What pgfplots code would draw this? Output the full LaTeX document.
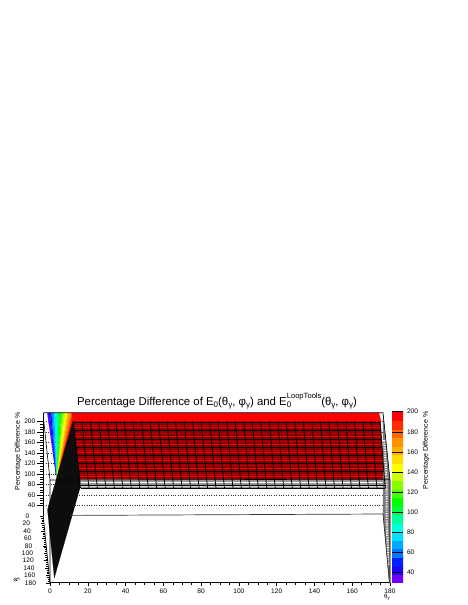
\documentclass[border=0pt]{standalone}
\usepackage{fontspec}
\setmainfont{Liberation Sans}
\usepackage{pgfplots}
\pgfplotsset{compat=1.18}

% palette, top band of the colour scale first
\definecolor{p1}{HTML}{FF0000}\definecolor{p2}{HTML}{FF2A00}\definecolor{p3}{HTML}{FF6600}
\definecolor{p4}{HTML}{FF9000}\definecolor{p5}{HTML}{FFB000}\definecolor{p6}{HTML}{FFDD00}
\definecolor{p7}{HTML}{FFFF00}\definecolor{p8}{HTML}{CCFF00}\definecolor{p9}{HTML}{88FF00}
\definecolor{p10}{HTML}{44FF00}\definecolor{p11}{HTML}{00FF00}\definecolor{p12}{HTML}{00FF44}
\definecolor{p13}{HTML}{00FF99}\definecolor{p14}{HTML}{00FFDD}\definecolor{p15}{HTML}{00E0FF}
\definecolor{p16}{HTML}{00AAFF}\definecolor{p17}{HTML}{0077FF}\definecolor{p18}{HTML}{0020FF}
\definecolor{p19}{HTML}{2000FF}\definecolor{p20}{HTML}{7000FF}
\definecolor{darkred}{HTML}{8C0000}
\definecolor{midred}{HTML}{C80000}

\newcommand{\sbs}[1]{\raisebox{-0.35ex}{\fontsize{8}{8}\selectfont #1}}
\newcommand{\thg}{θ\sbs{γ}}
\newcommand{\phg}{φ\sbs{γ}}

\pgfplotsset{
  every axis/.append style={
    scale only axis,
    /pgf/number format/assume math mode=true,
    tick label style={font=\fontsize{6.6}{7}\selectfont},
    axis line style={line width=0.6pt},
    tick style={black,line width=0.5pt},
  },
  band/.style={fill=#1,draw=#1,line width=0.15pt,forget plot},
}

\begin{document}
\begin{tikzpicture}
\path[use as bounding box] (0,0) rectangle (468pt,605pt);

% percentage axis with the dotted back wall grid
\begin{axis}[
  at={(43.3pt,89.3pt)}, anchor=south west,
  width=339.7pt, height=103pt,
  xmin=0, xmax=1, ymin=21, ymax=217.1,
  axis y line*=left, axis x line=none,
  ytick={40,60,...,200}, minor y tick num=3,
  tick align=outside, major tick length=6pt, minor tick length=3pt,
  yticklabel style={xshift=1.5pt},
  ymajorgrids, major grid style={black!80,dotted,line width=0.45pt},
]
\addplot[draw=none] coordinates {(0,40)(1,200)};
\end{axis}

% theta axis along the front edge
\begin{axis}[
  at={(50pt,22.3pt)}, anchor=south west,
  width=340pt, height=60pt,
  xmin=0, xmax=180, ymin=0, ymax=1,
  axis x line*=bottom, axis y line=none,
  xtick={0,20,...,180}, minor x tick num=3,
  tick align=outside, major tick length=3.5pt, minor tick length=2pt,
  xticklabel style={yshift=1pt},
]
\addplot[draw=none] coordinates {(0,0)(180,1)};
\end{axis}

% slanted phi axis on the left side
\begin{axis}[
  at={(43.3pt,22pt)}, anchor=south west,
  x={(10pt,0pt)}, y={(0.0372pt,-0.372pt)},
  xmin=0, xmax=1, ymin=0, ymax=180,
  axis y line*=left, axis x line=none,
  ytick={0,20,...,180}, minor y tick num=3,
  tick align=outside, major tick length=3.5pt, minor tick length=2pt,
  yticklabel style={xshift=-7pt},
]
\addplot[draw=none] coordinates {(0,0)(1,180)};
\end{axis}

% picture space in pixels of the lego view
\begin{axis}[
  at={(0pt,0pt)}, anchor=south west,
  width=468pt, height=605pt,
  xmin=0, xmax=468, ymin=0, ymax=605, y dir=reverse,
  hide axis, clip=false, unbounded coords=jump,
]
% colour fan on the left edge
\addplot[band=p20] coordinates {(47.3,413)(48.7,413)(56.7,480)} -- cycle;
\addplot[band=p19] coordinates {(48.7,413)(50.1,413)(56.7,480)} -- cycle;
\addplot[band=p18] coordinates {(50.1,413)(51.5,413)(56.7,480)} -- cycle;
\addplot[band=p17] coordinates {(51.5,413)(52.9,413)(56.7,480)} -- cycle;
\addplot[band=p16] coordinates {(52.9,413)(54.3,413)(56.7,480)} -- cycle;
\addplot[band=p15] coordinates {(54.3,413)(55.7,413)(56.7,480)} -- cycle;
\addplot[band=p14] coordinates {(55.7,413)(57.1,413)(56.7,480)} -- cycle;
\addplot[band=p13] coordinates {(57.1,413)(58.5,413)(56.7,480)} -- cycle;
\addplot[band=p12] coordinates {(58.5,413)(59.9,413)(56.7,480)} -- cycle;
\addplot[band=p11] coordinates {(59.9,413)(61.3,413)(56.7,480)} -- cycle;
\addplot[band=p10] coordinates {(61.3,413)(62.7,413)(56.7,480)} -- cycle;
\addplot[band=p9] coordinates {(62.7,413)(64.1,413)(56.7,480)} -- cycle;
\addplot[band=p8] coordinates {(64.1,413)(65.5,413)(56.7,480)} -- cycle;
\addplot[band=p7] coordinates {(65.5,413)(66.9,413)(56.7,480)} -- cycle;
\addplot[band=p6] coordinates {(66.9,413)(68.3,413)(56.7,480)} -- cycle;
\addplot[band=p5] coordinates {(68.3,413)(69.7,413)(56.7,480)} -- cycle;
\addplot[band=p4] coordinates {(69.7,413)(71.1,413)(56.7,480)} -- cycle;
\addplot[band=p3] coordinates {(71.1,413)(72.5,413)(56.7,480)} -- cycle;
\addplot[band=p2] coordinates {(72.5,413)(73.9,413)(56.7,480)} -- cycle;
\addplot[band=p1] coordinates {(73.9,413)(75.3,413)(56.7,480)} -- cycle;

% red plateau
\addplot[band=p1] coordinates {(72,413)(379,413)(381,421.5)(73,421.5)} -- cycle;
\addplot[band=darkred] coordinates {(73,421.5)(380.5,421.5)(384.6,479.5)(79.5,479.5)} -- cycle;
\addplot[p1,line width=0.9pt,forget plot] coordinates {
  (73.9,427.8)(380.5,427.8)(nan,nan)
  (75,436.2)(381.2,436.2)(nan,nan)
  (76,444.5)(381.9,444.5)(nan,nan)
  (76.9,452.9)(382.5,452.9)(nan,nan)
  (77.6,460.6)(383.1,460.6)(nan,nan)
  (78.5,468.7)(383.7,468.7)(nan,nan)
  (79.3,476.9)(384.3,476.9)
};
\addplot[midred,line width=0.9pt,forget plot] coordinates {
  (73.5,425)(380.2,425)(nan,nan)
  (74.7,433.4)(381,433.4)(nan,nan)
  (75.6,441.7)(381.7,441.7)(nan,nan)
  (76.5,450.1)(382.3,450.1)(nan,nan)
  (77.4,458)(382.9,458)(nan,nan)
  (78.2,465.9)(383.5,465.9)(nan,nan)
  (79,474.1)(384,474.1)
};

% grey skirt under the plateau
\addplot[band=black!42] coordinates {(80,479.5)(384.6,479.5)(385,488.5)(81,488.5)} -- cycle;
\addplot[white,line width=0.9pt,forget plot] coordinates {(80,482.8)(384.8,482.8)};
\addplot[black!15,line width=0.7pt,forget plot] coordinates {(81,486.7)(385,486.7)};

% right side wall
\addplot[band=black!52] coordinates {(383,412.7)(390,480)(390,583)(389.3,583)(383,514)} -- cycle;
\addplot[white,line width=2.2pt,dash pattern=on 0.8pt off 0.9pt,forget plot] coordinates {(384.2,440)(386.6,480)(386.6,520)(388.8,565)};

% dark left wall
\addplot[band=black!95] coordinates {(73,421)(80,479)(80,488)(54.3,578)(47.7,512)(47.7,509)} -- cycle;

% mesh
\addplot[black,line width=0.5pt,forget plot] coordinates {
  (73.4,422.3)(380.1,422.3)(nan,nan)
  (74.3,430.7)(380.7,430.7)(nan,nan)
  (75.2,439)(381.4,439)(nan,nan)
  (76.1,447.3)(382,447.3)(nan,nan)
  (77,455.7)(382.6,455.7)(nan,nan)
  (77.8,463)(383.2,463)(nan,nan)
  (78.7,471.3)(383.8,471.3)(nan,nan)
  (80,485)(384.8,485)(nan,nan)
  (81,488.4)(385,488.4)
};
\addplot[black,line width=0.75pt,forget plot] coordinates {
  (73.3,421.5)(79.5,479)(80.5,488)(nan,nan)
  (81.8,421.5)(88,479)(89,488)(nan,nan)
  (90.3,421.5)(96.4,479)(97.4,488)(nan,nan)
  (98.9,421.5)(104.9,479)(105.9,488)(nan,nan)
  (107.4,421.5)(113.4,479)(114.4,488)(nan,nan)
  (115.9,421.5)(121.9,479)(122.9,488)(nan,nan)
  (124.4,421.5)(130.3,479)(131.3,488)(nan,nan)
  (133,421.5)(138.8,479)(139.8,488)(nan,nan)
  (141.5,421.5)(147.3,479)(148.3,488)(nan,nan)
  (150,421.5)(155.7,479)(156.7,488)(nan,nan)
  (158.5,421.5)(164.2,479)(165.2,488)(nan,nan)
  (167,421.5)(172.7,479)(173.7,488)(nan,nan)
  (175.5,421.5)(181.1,479)(182.1,488)(nan,nan)
  (184.1,421.5)(189.6,479)(190.6,488)(nan,nan)
  (192.6,421.5)(198.1,479)(199.1,488)(nan,nan)
  (201.1,421.5)(206.6,479)(207.6,488)(nan,nan)
  (209.6,421.5)(215,479)(216,488)(nan,nan)
  (218.1,421.5)(223.5,479)(224.5,488)(nan,nan)
  (226.7,421.5)(232,479)(233,488)(nan,nan)
  (235.2,421.5)(240.4,479)(241.4,488)(nan,nan)
  (243.7,421.5)(248.9,479)(249.9,488)(nan,nan)
  (252.2,421.5)(257.4,479)(258.4,488)(nan,nan)
  (260.7,421.5)(265.8,479)(266.8,488)(nan,nan)
  (269.3,421.5)(274.3,479)(275.3,488)(nan,nan)
  (277.8,421.5)(282.8,479)(283.8,488)(nan,nan)
  (286.3,421.5)(291.3,479)(292.3,488)(nan,nan)
  (294.8,421.5)(299.7,479)(300.7,488)(nan,nan)
  (303.3,421.5)(308.2,479)(309.2,488)(nan,nan)
  (311.9,421.5)(316.7,479)(317.7,488)(nan,nan)
  (320.4,421.5)(325.1,479)(326.1,488)(nan,nan)
  (328.9,421.5)(333.6,479)(334.6,488)(nan,nan)
  (337.4,421.5)(342.1,479)(343.1,488)(nan,nan)
  (345.9,421.5)(350.5,479)(351.5,488)(nan,nan)
  (354.5,421.5)(359,479)(360,488)(nan,nan)
  (363,421.5)(367.5,479)(368.5,488)(nan,nan)
  (371.5,421.5)(376,479)(377,488)(nan,nan)
  (380,421.5)(384.4,479)(385.4,488)
};

% box edges
\addplot[black,line width=0.6pt,forget plot] coordinates {
  (43.3,412.7)(383,412.7)(390,480)(390,583)(nan,nan)
  (43.8,421)(50,480)(50,583)(nan,nan)
  (50,480)(390,479.2)
};
\addplot[black!80,line width=0.7pt,forget plot] coordinates {(70,515.4)(383,514)(389.5,583)};

\node[font=\fontsize{11.4}{13}\selectfont,anchor=base] at (axis cs:217,405.5)
  {Percentage Difference of E\sbs{0}(\thg, \phg) and E\rlap{\raisebox{1.1ex}{\fontsize{7.6}{8}\selectfont LoopTools}}\sbs{0}\hspace{30pt}(\thg, \phg)};
\node[font=\fontsize{7}{8}\selectfont,rotate=90] at (axis cs:18,451.5) {Percentage Difference \%};
\node[font=\fontsize{7}{8}\selectfont,rotate=90] at (axis cs:426,450.5) {Percentage Difference \%};
\node[font=\fontsize{6}{7}\selectfont] at (axis cs:387,597) {θ\raisebox{-0.4ex}{\fontsize{4.5}{5}\selectfont γ}};
\node[font=\fontsize{6}{7}\selectfont,rotate=60] at (axis cs:17,580) {φ\raisebox{-0.4ex}{\fontsize{4.5}{5}\selectfont γ}};
\end{axis}

% colour scale
\begin{axis}[
  at={(391.7pt,22.3pt)}, anchor=south west,
  width=11.3pt, height=171pt,
  xmin=0, xmax=1, ymin=30, ymax=200,
  axis y line*=right, axis x line=none,
  ytick={40,60,...,200}, tick align=inside,
  major tick length=11.3pt,
  tick style={black,line width=0.4pt},
  axis line style={draw=none},
  yticklabel style={xshift=0.5pt},
  axis on top,
]
\addplot[band=p20] coordinates {(0,30)(1,30)(1,38.5)(0,38.5)} -- cycle;
\addplot[band=p19] coordinates {(0,38.5)(1,38.5)(1,47)(0,47)} -- cycle;
\addplot[band=p18] coordinates {(0,47)(1,47)(1,55.5)(0,55.5)} -- cycle;
\addplot[band=p17] coordinates {(0,55.5)(1,55.5)(1,64)(0,64)} -- cycle;
\addplot[band=p16] coordinates {(0,64)(1,64)(1,72.5)(0,72.5)} -- cycle;
\addplot[band=p15] coordinates {(0,72.5)(1,72.5)(1,81)(0,81)} -- cycle;
\addplot[band=p14] coordinates {(0,81)(1,81)(1,89.5)(0,89.5)} -- cycle;
\addplot[band=p13] coordinates {(0,89.5)(1,89.5)(1,98)(0,98)} -- cycle;
\addplot[band=p12] coordinates {(0,98)(1,98)(1,106.5)(0,106.5)} -- cycle;
\addplot[band=p11] coordinates {(0,106.5)(1,106.5)(1,115)(0,115)} -- cycle;
\addplot[band=p10] coordinates {(0,115)(1,115)(1,123.5)(0,123.5)} -- cycle;
\addplot[band=p9] coordinates {(0,123.5)(1,123.5)(1,132)(0,132)} -- cycle;
\addplot[band=p8] coordinates {(0,132)(1,132)(1,140.5)(0,140.5)} -- cycle;
\addplot[band=p7] coordinates {(0,140.5)(1,140.5)(1,149)(0,149)} -- cycle;
\addplot[band=p6] coordinates {(0,149)(1,149)(1,157.5)(0,157.5)} -- cycle;
\addplot[band=p5] coordinates {(0,157.5)(1,157.5)(1,166)(0,166)} -- cycle;
\addplot[band=p4] coordinates {(0,166)(1,166)(1,174.5)(0,174.5)} -- cycle;
\addplot[band=p3] coordinates {(0,174.5)(1,174.5)(1,183)(0,183)} -- cycle;
\addplot[band=p2] coordinates {(0,183)(1,183)(1,191.5)(0,191.5)} -- cycle;
\addplot[band=p1] coordinates {(0,191.5)(1,191.5)(1,200)(0,200)} -- cycle;
\end{axis}
\end{tikzpicture}
\end{document}
